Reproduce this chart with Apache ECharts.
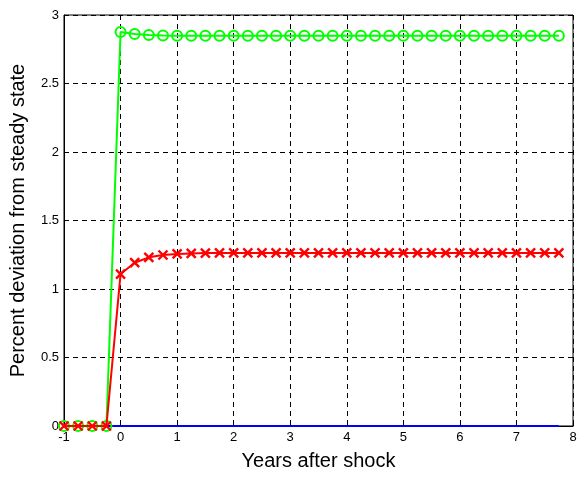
<!DOCTYPE html>
<html>
<head>
<meta charset="utf-8">
<script src="https://cdn.jsdelivr.net/npm/echarts@6/dist/echarts.min.js"></script>
<style>
  html, body { margin: 0; padding: 0; background: #fff; }
  #chart { width: 580px; height: 477px; }
</style>
</head>
<body>
<div id="chart"></div>
<script>
// Quarterly horizon, in years relative to the shock
const years = [-1, -0.75, -0.5, -0.25, 0, 0.25, 0.5, 0.75, 1, 1.25, 1.5, 1.75,
  2, 2.25, 2.5, 2.75, 3, 3.25, 3.5, 3.75, 4, 4.25, 4.5, 4.75,
  5, 5.25, 5.5, 5.75, 6, 6.25, 6.5, 6.75, 7, 7.25, 7.5, 7.75];

// Percent deviation from steady state
const baseline = [0, 0, 0, 0, 0, 0, 0, 0, 0, 0, 0, 0,
  0, 0, 0, 0, 0, 0, 0, 0, 0, 0, 0, 0,
  0, 0, 0, 0, 0, 0, 0, 0, 0, 0, 0, 0];
const greenPath = [0, 0, 0, 0, 2.876, 2.861, 2.854, 2.850, 2.848, 2.848, 2.848, 2.848,
  2.848, 2.848, 2.848, 2.848, 2.848, 2.848, 2.848, 2.848, 2.848, 2.848, 2.848, 2.848,
  2.848, 2.848, 2.848, 2.848, 2.848, 2.848, 2.848, 2.848, 2.848, 2.848, 2.848, 2.848];
const redPath = [0, 0, 0, 0, 1.109, 1.192, 1.231, 1.248, 1.256, 1.260, 1.262, 1.263,
  1.263, 1.263, 1.263, 1.263, 1.263, 1.263, 1.263, 1.263, 1.263, 1.263, 1.263, 1.263,
  1.263, 1.263, 1.263, 1.263, 1.263, 1.263, 1.263, 1.263, 1.263, 1.263, 1.263, 1.263];

const xTicks = [-1, 0, 1, 2, 3, 4, 5, 6, 7, 8];
const yTicks = [0, 0.5, 1, 1.5, 2, 2.5, 3];

const pairs = (ys) => years.map((x, i) => [x, ys[i]]);

const font = '"Liberation Sans", Arial, sans-serif';
const gridLine = { show: true, lineStyle: { color: '#000', width: 1, type: [5, 4] } };

const chart = echarts.init(document.getElementById('chart'), null, { renderer: 'canvas' });
chart.setOption({
  animation: false,
  backgroundColor: '#fff',
  grid: { left: 64, right: 7, top: 15, bottom: 51, show: true, borderColor: '#000', borderWidth: 1 },
  xAxis: {
    type: 'value',
    min: xTicks[0], max: xTicks[xTicks.length - 1], interval: 1,
    name: 'Years after shock',
    nameLocation: 'middle', nameGap: 25,
    nameTextStyle: { fontFamily: font, fontSize: 20, color: '#000' },
    axisLine: { show: true, onZero: false, lineStyle: { color: '#000', width: 1 } },
    axisTick: { show: true, inside: true, length: 5, lineStyle: { color: '#000' } },
    axisLabel: { fontFamily: font, fontSize: 13, color: '#000', margin: 5 },
    splitLine: gridLine
  },
  yAxis: {
    type: 'value',
    min: yTicks[0], max: yTicks[yTicks.length - 1], interval: 0.5,
    name: 'Percent deviation from steady state',
    nameLocation: 'middle', nameGap: 36,
    nameTextStyle: { fontFamily: font, fontSize: 20, color: '#000' },
    axisLine: { show: true, onZero: false, lineStyle: { color: '#000', width: 1 } },
    axisTick: { show: true, inside: true, length: 5, lineStyle: { color: '#000' } },
    axisLabel: { fontFamily: font, fontSize: 13, color: '#000', margin: 5 },
    splitLine: gridLine
  },
  series: [
    {
      type: 'line', data: pairs(baseline), showSymbol: false, symbol: 'none',
      lineStyle: { color: '#0000ff', width: 2 }, z: 2
    },
    {
      type: 'line', data: pairs(greenPath),
      symbol: 'circle', symbolSize: 10,
      itemStyle: { color: 'rgba(0,0,0,0)', borderColor: '#00ff00', borderWidth: 2 },
      lineStyle: { color: '#00ff00', width: 2 }, z: 3
    },
    {
      type: 'line', data: pairs(redPath),
      symbol: 'path://M0,0L10,10M10,0L0,10', symbolSize: 9,
      itemStyle: { color: 'rgba(0,0,0,0)', borderColor: '#ff0000', borderWidth: 2.4 },
      lineStyle: { color: '#ff0000', width: 2 }, z: 4
    }
  ]
});
</script>
</body>
</html>
